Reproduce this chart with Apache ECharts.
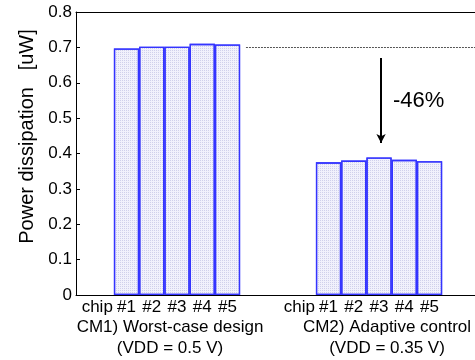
<!DOCTYPE html>
<html>
<head>
    <meta charset="UTF-8">
    <title>Power dissipation per chip</title>
    <script src="https://cdn.jsdelivr.net/npm/echarts@6/dist/echarts.min.js"></script>
    <style>
        html, body { margin: 0; padding: 0; background: #fff; }
        #main { width: 475px; height: 360px; }
    </style>
</head>
<body>
    <div id="main"></div>
    <script type="text/javascript">
        // values (uW)
        const worstCase = [0.697, 0.702, 0.702, 0.710, 0.708];
        const adaptive = [0.375, 0.380, 0.389, 0.382, 0.378];
        const chipLabels = ['#1', '#2', '#3', '#4', '#5'];
        const groupNames = ['CM1) Worst-case design\n(VDD = 0.5 V)', 'CM2) Adaptive control\n(VDD = 0.35 V)'];

        // slot index of the first chip in each group on the x axis
        const groupStart = [2, 10];

        // tick label per slot
        let slotLabels = {};
        groupStart.forEach(s => {
            slotLabels[s - 1] = '{c|chip}';
            chipLabels.forEach((c, i) => { slotLabels[s + i] = c; });
        });

        let barData = [];
        worstCase.forEach((v, i) => barData.push([groupStart[0] + i, v]));
        adaptive.forEach((v, i) => barData.push([groupStart[1] + i, v]));

        const font = 'Helvetica, Arial, "Liberation Sans", sans-serif';
        let chart = echarts.init(document.getElementById('main'));

        let option = {
            animation: false,
            textStyle: { fontFamily: font },
            grid: { left: 76, right: 0, top: 12, bottom: 65 },
            xAxis: [{
                type: 'value',
                min: 0, max: 15.8, interval: 1,
                splitLine: { show: false },
                axisLine: { lineStyle: { color: '#000', width: 1 } },
                axisTick: { show: false },
                axisLabel: {
                    color: '#000', fontSize: 17, margin: 4,
                    showMaxLabel: false,
                    formatter: v => slotLabels[v] || '',
                    rich: { c: { fontSize: 17, color: '#000', padding: [0, 8, 0, 0] } }
                }
            }, {
                // top frame line
                type: 'value', position: 'top',
                min: 0, max: 15.8,
                splitLine: { show: false },
                axisLine: { show: true, lineStyle: { color: '#000', width: 1 } },
                axisTick: { show: false },
                axisLabel: { show: false }
            }],
            yAxis: {
                type: 'value',
                min: 0, max: 0.8, interval: 0.1,
                name: 'Power dissipation   [uW]',
                nameLocation: 'middle',
                nameGap: 36,
                nameTextStyle: { color: '#000', fontSize: 20, padding: [0, 0, 0, 34] },
                splitLine: { show: false },
                axisLine: { show: true, lineStyle: { color: '#000', width: 1 } },
                axisTick: { show: true, inside: true, length: 4, lineStyle: { color: '#000' } },
                axisLabel: {
                    color: '#000', fontSize: 17, margin: 4,
                    formatter: v => (v === 0 ? '0' : v.toFixed(1))
                }
            },
            series: [{
                type: 'bar',
                data: barData,
                barWidth: 25.25,
                itemStyle: {
                    color: '#f1f1fc',
                    borderColor: '#3434ff',
                    borderWidth: 1.3,
                    decal: {
                        symbol: 'rect',
                        symbolSize: 1,
                        color: 'rgba(160,160,210,0.4)',
                        dashArrayX: [1, 1],
                        dashArrayY: [1, 1]
                    }
                },
                markLine: {
                    silent: true,
                    animation: false,
                    label: { show: false },
                    data: [
                        [
                            { coord: [6.73, 0.7], symbol: 'none', lineStyle: { type: [2, 1], color: '#555', width: 1 } },
                            { coord: [15.8, 0.7], symbol: 'none' }
                        ],
                        [
                            { coord: [12.08, 0.67], symbol: 'none', lineStyle: { type: 'solid', color: '#000', width: 2 } },
                            { coord: [12.08, 0.43], symbol: 'arrow', symbolSize: [7, 9] }
                        ]
                    ]
                },
                markPoint: {
                    silent: true,
                    symbol: 'circle',
                    symbolSize: 0,
                    data: [{ coord: [12.55, 0.549] }],
                    label: {
                        show: true, position: 'right', distance: 0,
                        formatter: '-46%', color: '#000', fontSize: 22, fontFamily: font
                    }
                }
            }],
            graphic: [
                {
                    type: 'text', x: 170, y: 317,
                    style: { text: groupNames[0], fill: '#000', font: '17px ' + font, textAlign: 'center', textVerticalAlign: 'top', lineHeight: 21 }
                },
                {
                    type: 'text', x: 387, y: 317,
                    style: { text: groupNames[1], fill: '#000', font: '17px ' + font, textAlign: 'center', textVerticalAlign: 'top', lineHeight: 21 }
                }
            ]
        };

        chart.setOption(option);
    </script>
</body>
</html>
